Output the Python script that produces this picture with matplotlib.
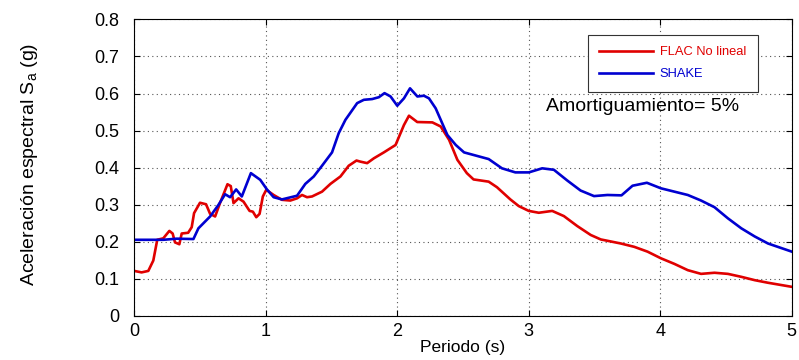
import numpy as np
import matplotlib
matplotlib.use("Agg")
import matplotlib.pyplot as plt

plt.rcParams['font.family'] = ['Liberation Sans', 'DejaVu Sans']
plt.rcParams['mathtext.fontset'] = 'custom'
plt.rcParams['mathtext.rm'] = 'Liberation Sans'
plt.rcParams['mathtext.it'] = 'Liberation Sans'

# espectro FLAC no lineal (periodo s, Sa g)
t_flac = [0.0, 0.056, 0.107, 0.145, 0.175, 0.221, 0.267, 0.292, 0.31, 0.343, 0.361,
          0.41, 0.437, 0.455, 0.5, 0.546, 0.577, 0.615, 0.653, 0.679, 0.709, 0.734,
          0.755, 0.793, 0.831, 0.877, 0.902, 0.928, 0.953, 0.978, 1.004, 1.06, 1.123,
          1.187, 1.238, 1.276, 1.314, 1.352, 1.428, 1.492, 1.568, 1.631, 1.69, 1.72,
          1.771, 1.822, 1.898, 1.987, 2.051, 2.089, 2.152, 2.267, 2.33, 2.394, 2.457,
          2.529, 2.58, 2.695, 2.758, 2.86, 2.924, 3.0, 3.076, 3.178, 3.267, 3.369,
          3.471, 3.547, 3.7, 3.802, 3.903, 4.005, 4.107, 4.209, 4.31, 4.412, 4.514,
          4.616, 4.718, 4.819, 5.0]
sa_flac = [0.121, 0.117, 0.121, 0.149, 0.205, 0.209, 0.229, 0.222, 0.198, 0.193, 0.222,
           0.224, 0.239, 0.277, 0.305, 0.301, 0.275, 0.268, 0.305, 0.328, 0.355, 0.35,
           0.304, 0.317, 0.308, 0.283, 0.281, 0.266, 0.275, 0.322, 0.34, 0.326, 0.313,
           0.311, 0.317, 0.326, 0.32, 0.322, 0.335, 0.356, 0.376, 0.405, 0.419, 0.416,
           0.412, 0.425, 0.441, 0.461, 0.515, 0.54, 0.523, 0.522, 0.511, 0.475, 0.421,
           0.385, 0.368, 0.362, 0.347, 0.314, 0.296, 0.283, 0.278, 0.283, 0.269, 0.242,
           0.218, 0.206, 0.195, 0.186, 0.173, 0.155, 0.14, 0.123, 0.113, 0.116, 0.113,
           0.105, 0.096, 0.089, 0.078]

# espectro SHAKE
t_shake = [0.0, 0.221, 0.323, 0.45, 0.488, 0.577, 0.64, 0.691, 0.729, 0.775, 0.818,
           0.887, 0.958, 1.009, 1.06, 1.123, 1.238, 1.301, 1.365, 1.428, 1.504, 1.555,
           1.606, 1.695, 1.746, 1.809, 1.86, 1.903, 1.949, 2.0, 2.051, 2.097, 2.153,
           2.203, 2.241, 2.292, 2.381, 2.445, 2.508, 2.695, 2.796, 2.898, 3.0, 3.102,
           3.191, 3.293, 3.394, 3.496, 3.598, 3.705, 3.789, 3.898, 4.005, 4.107, 4.209,
           4.31, 4.412, 4.514, 4.616, 4.718, 4.819, 5.0]
sa_shake = [0.205, 0.205, 0.208, 0.207, 0.236, 0.268, 0.299, 0.328, 0.32, 0.341, 0.322,
            0.385, 0.367, 0.341, 0.32, 0.314, 0.324, 0.356, 0.376, 0.405, 0.441, 0.493,
            0.529, 0.574, 0.583, 0.585, 0.59, 0.601, 0.592, 0.567, 0.587, 0.614, 0.592,
            0.594, 0.587, 0.56, 0.488, 0.461, 0.441, 0.423, 0.398, 0.387, 0.387, 0.398,
            0.394, 0.365, 0.338, 0.323, 0.326, 0.325, 0.351, 0.359, 0.344, 0.335, 0.326,
            0.311, 0.293, 0.263, 0.236, 0.214, 0.195, 0.173]

fig = plt.figure(figsize=(7.99, 3.6), dpi=100)
ax = fig.add_axes([0.168, 0.123, 0.823, 0.823])

ax.plot(t_flac, sa_flac, color='#e00000', lw=1.9, label='FLAC No lineal')
ax.plot(t_shake, sa_shake, color='#0000d0', lw=1.9, label='SHAKE')

ax.set_xlim(0, 5)
ax.set_ylim(0, 0.8)
ax.set_xticks(np.arange(0, 6, 1))
ax.set_yticks(np.arange(0, 0.81, 0.1))
ax.set_yticklabels(['0', '0.1', '0.2', '0.3', '0.4', '0.5', '0.6', '0.7', '0.8'])
ax.tick_params(direction='in', top=True, right=True, labelsize=13, length=4)
ax.tick_params(axis='y', pad=11)
ax.tick_params(axis='x', pad=5)
ax.grid(True, linestyle=(0, (1, 3)), color='#555555', lw=0.8)
for s in ax.spines.values():
    s.set_linewidth(0.8)

ax.set_xlabel('Periodo (s)', fontsize=12.5, labelpad=0)
ax.set_ylabel('Aceleración espectral S$_{\\mathrm{a}}$ (g)', fontsize=14)
ax.yaxis.set_label_coords(-0.143, 0.51)

leg = ax.legend(loc='upper right', bbox_to_anchor=(0.958, 0.97), fontsize=9.3,
                fancybox=False, framealpha=1, edgecolor='#333333',
                handlelength=4.2, handletextpad=0.5, borderpad=0.9,
                labelspacing=0.75)
leg.get_frame().set_linewidth(0.8)
for txt, c in zip(leg.get_texts(), ['#e00000', '#0000d0']):
    txt.set_color(c)

ax.text(3.13, 0.564, 'Amortiguamiento= 5%', fontsize=14, va='center', ha='left')

fig.savefig('out.png', dpi=100)
